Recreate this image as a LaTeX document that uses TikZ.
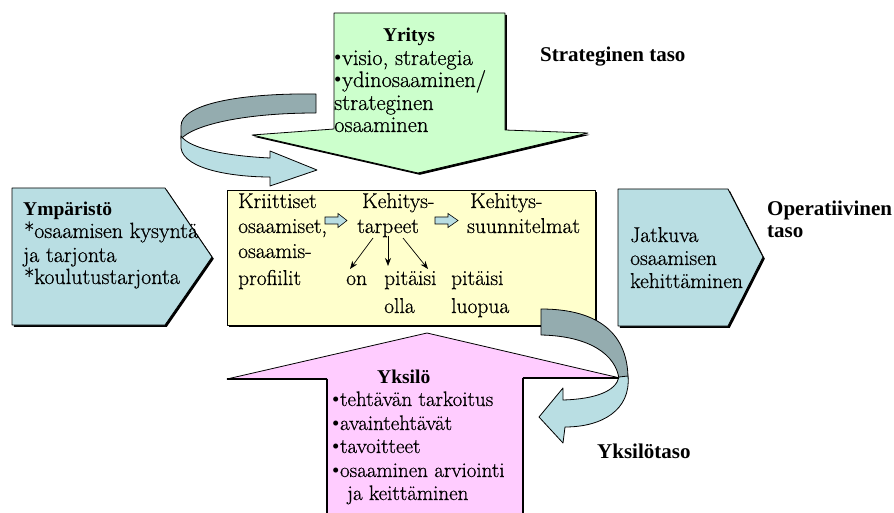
\documentclass[tikz,border=0pt]{standalone}
\usepackage{fontspec}
\newfontfamily\heavyfont{Liberation Serif}
\newfontfamily\bodyfont{Latin Modern Roman}[FakeBold=0.6]
\usetikzlibrary{arrows.meta}

\definecolor{leafgreen}{RGB}{204,255,204}
\definecolor{paleyellow}{RGB}{255,255,204}
\definecolor{paleblue}{RGB}{185,222,227}
\definecolor{palepink}{RGB}{255,204,255}
\definecolor{ribbondark}{RGB}{148,172,175}

\newcommand\itembul{{\heavyfont\fontsize{21}{21}\selectfont •}\kern0.5pt}

\tikzset{
  body/.style={anchor=base west, inner sep=0pt, font=\bodyfont\fontsize{#1}{22}\selectfont},
  body/.default=21.5,
  heading/.style={anchor=base west, inner sep=0pt, font=\heavyfont\bfseries\fontsize{19.5}{22}\selectfont},
  levelname/.style={anchor=base west, inner sep=0pt, font=\heavyfont\bfseries\fontsize{21}{22}\selectfont},
  outline/.style={draw=black, line width=0.8pt, line join=round},
  shadowed/.style={preaction={fill=black, transform canvas={shift={(1.8,1.8)}}}},
  tiparrow/.style={line width=0.7pt, -{Stealth[length=8pt,width=6pt]}},
  blockarrow/.style={fill=paleblue, draw=black, line width=0.6pt, line join=miter},
}

\begin{document}
\begin{tikzpicture}[x=1pt,y=-1pt]
\useasboundingbox (0,0) rectangle (894,513);
\begin{scope}
\clip (0,0) rectangle (894,513);

% environment and development side arrows
\path[outline, fill=paleblue, shadowed]
  (12,188) -- (165,188) -- (212,257) -- (165,325) -- (12,325) -- cycle;
\path[outline, fill=paleblue, shadowed]
  (618,189) -- (728,189) -- (763,257) -- (728,326) -- (618,326) -- cycle;

% central box
\path[outline, fill=paleyellow, shadowed] (227,190) rectangle (595,325);

% company arrow pointing down
\path[outline, fill=leafgreen, shadowed]
  (334,13) -- (505,13) -- (505,130) -- (588,133) -- (418,173)
  -- (252,135) -- (334,129) -- cycle;

% individual arrow pointing up
\path[outline, fill=palepink]
  (327,520) -- (327,379) -- (227,379) -- (427,333) -- (620,378)
  -- (523,378) -- (523,520) -- cycle;
\draw[line width=2pt] (227,379) -- (327,379) (523,378) -- (620,378);
\draw[line width=1.6pt] (327,379) -- (327,520) (523,378) -- (523,520);

% upper curved ribbon arrow
\path[outline, fill=ribbondark]
  (316,94) .. controls (240,93) and (181,104) .. (181,126) -- (181,139)
  .. controls (192,126) and (240,113) .. (316,113) -- cycle;
\path[outline, fill=paleblue]
  (181,136) -- (181,148) .. controls (184,170) and (235,177) .. (270,177)
  -- (270,186) -- (317,170) -- (270,151) -- (270,158)
  .. controls (228,156) and (190,149) .. (181,136) -- cycle;

% lower curved ribbon arrow
\path[outline, fill=ribbondark]
  (541,309) .. controls (600,309) and (628,335) .. (628,379) -- (619,379)
  .. controls (616,355) and (590,336) .. (541,335) -- cycle;
\path[outline, fill=paleblue]
  (628,376) .. controls (631,410) and (602,427) .. (565,427)
  -- (563,443) -- (539,417) -- (563,388) -- (563,400)
  .. controls (596,399) and (616,391) .. (619,377) -- cycle;
\end{scope}

% level names
\node[levelname] (strat) at (540,62) {Strateginen taso};
\node[levelname] (oper1) at (767,215) {Operatiivinen};
\node[levelname] (oper2) at (767,237) {taso};
\node[levelname] (indiv) at (597,458) {Yksilötaso};

% environment box text
\node[heading] (ymp) at (23,216) {Ympäristö};
\node[body=22] (ymp1) at (24,238) {*osaamisen kysyntä};
\node[body=22] (ymp2) at (23,262) {ja tarjonta};
\node[body=22] (ymp3) at (24,284) {*koulutustarjonta};

% company arrow text
\node[heading, anchor=base] (yri) at (409,42) {Yritys};
\node[body=22.5] (yri1) at (334,65) {\itembul visio, strategia};
\node[body=22.5] (yri2) at (334,87) {\itembul ydinosaaminen/};
\node[body=22.5] (yri3) at (334,110) {strateginen};
\node[body=22.5] (yri4) at (334,132) {osaaminen};

% continuous development text
\node[body] (jat1) at (630,242) {Jatkuva};
\node[body] (jat2) at (630,265) {osaamisen};
\node[body] (jat3) at (630,288) {kehittäminen};

% central box text
\node[body] (kr1) at (238,208) {Kriittiset};
\node[body] (kr2) at (238,233) {osaamiset,};
\node[body] (kr3) at (238,258) {osaamis-};
\node[body] (kr4) at (238,285) {profiilit};
\node[body] (ke1) at (362,208) {Kehitys-};
\node[body] (ke2) at (357,233) {tarpeet};
\node[body] (su1) at (470,208) {Kehitys-};
\node[body] (su2) at (467,233) {suunnitelmat};
\node[body] (on) at (346,285) {on};
\node[body] (pi1) at (384,285) {pitäisi};
\node[body] (pi2) at (384,313) {olla};
\node[body] (lu1) at (451,285) {pitäisi};
\node[body] (lu2) at (451,313) {luopua};

% small block arrows between the columns
\path[blockarrow] (325,217) -- (338,217) -- (338,213.5) -- (347,220.5)
  -- (338,227.5) -- (338,224) -- (325,224) -- cycle;
\path[blockarrow] (435,217) -- (448,217) -- (448,213.5) -- (458,220.5)
  -- (448,227.5) -- (448,224) -- (435,224) -- cycle;

% branching arrows from the needs
\coordinate (tp1) at (373,238);
\coordinate (tp2) at (388,236);
\coordinate (tp3) at (403,238);
\coordinate (hd1) at (350,269);
\coordinate (hd2) at (388,266);
\coordinate (hd3) at (428,269);
\draw[tiparrow] (tp1) -- (hd1);
\draw[tiparrow] (tp2) -- (hd2);
\draw[tiparrow] (tp3) -- (hd3);

% individual arrow text
\node[heading] (yks) at (377,383) {Yksilö};
\node[body=21] (yks1) at (332,406) {\itembul tehtävän tarkoitus};
\node[body=21] (yks2) at (332,430) {\itembul avaintehtävät};
\node[body=21] (yks3) at (332,453) {\itembul tavoitteet};
\node[body=21] (yks4) at (332,477) {\itembul osaaminen arviointi};
\node[body=21] (yks5) at (347,500) {ja keittäminen};
\end{tikzpicture}
\end{document}
